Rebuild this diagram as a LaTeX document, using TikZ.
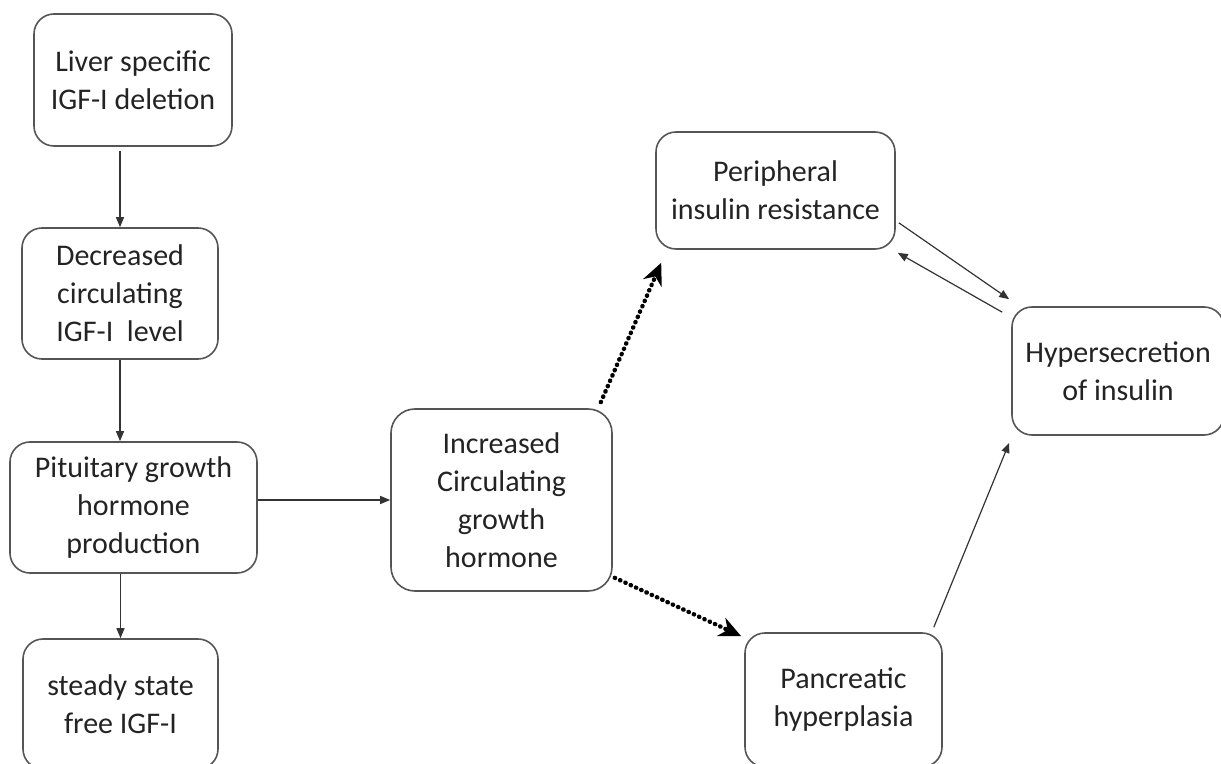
\documentclass[tikz,border=0pt]{standalone}
\usepackage{fontspec}
\setmainfont{Carlito}
\usetikzlibrary{arrows.meta, positioning, calc}
\definecolor{boxgray}{RGB}{85,85,85}
\definecolor{txtgray}{RGB}{35,35,35}

\begin{document}
\begin{tikzpicture}[
  x=0.5pt, y=-0.5pt,
  cbox/.style={draw=boxgray, line width=0.8pt, rounded corners=10pt, align=center, inner sep=0pt, text=txtgray, font=\fontsize{15}{19}\selectfont},
  thinarrow/.style={draw=black!80, line width=0.6pt, -{Triangle[length=5pt,width=4pt]}},
  dotarrow/.style={line width=2.2pt, line cap=round, dash pattern=on 0.2pt off 2.7pt, -{Stealth[length=11pt,width=10pt]}}
]
  \useasboundingbox (0,0) rectangle (1221,764);

  % left column
  \node[cbox, minimum width=99pt, minimum height=66pt] (liver) at (133,80) {Liver specific\\IGF-I deletion};
  \node[cbox, minimum width=98pt, minimum height=65.5pt] (decreased) at (120,293.5) {Decreased\\circulating\\IGF-I\ \ level};
  \node[cbox, minimum width=123.5pt, minimum height=65.5pt] (pituitary) at (133.5,507.5) {Pituitary growth\\hormone\\production};
  \node[cbox, minimum width=97.5pt, minimum height=65pt] (steady) at (120.5,704) {steady state\\free IGF-I};

  % middle and right
  \node[cbox, minimum width=110.5pt, minimum height=91pt, rounded corners=12pt] (increased) at (501.5,500) {Increased\\Circulating\\growth\\hormone};
  \node[cbox, minimum width=119.5pt, minimum height=58.5pt] (peripheral) at (775.5,190.5) {Peripheral\\insulin resistance};
  \node[cbox, minimum width=106pt, minimum height=64pt] (hyper) at (1118,371) {Hypersecretion\\of insulin};
  \node[cbox, minimum width=98.5pt, minimum height=67pt] (pancreatic) at (843.5,700) {Pancreatic\\hyperplasia};

  % connectors
  \draw[thinarrow] ($(liver.south -| decreased.north)+(0,4)$) -- (decreased.north);
  \draw[thinarrow] (decreased.south) -- (pituitary.north -| decreased.south);
  \draw[thinarrow] (pituitary.south -| steady.north) -- (steady.north);
  \draw[thinarrow] (increased.west -| pituitary.east) -- (increased.west);

  \draw[dotarrow] ($(increased.north east)+(-12,-6)$) -- ($(peripheral.south west)+(6,13)$);
  \draw[dotarrow] ($(increased.south east)+(2,-14)$) -- ($(pancreatic.north west)+(-3,4)$);

  \draw[thinarrow] ($(peripheral.south east)+(3,-27)$) -- ($(hyper.north west)+(-2,-7)$);
  \draw[thinarrow] ($(hyper.north west)+(-9,6)$) -- ($(peripheral.south east)+(2,3)$);
  \draw[thinarrow] ($(pancreatic.north east)+(-9,-5)$) -- ($(hyper.south west)+(-2,7)$);
\end{tikzpicture}
\end{document}
